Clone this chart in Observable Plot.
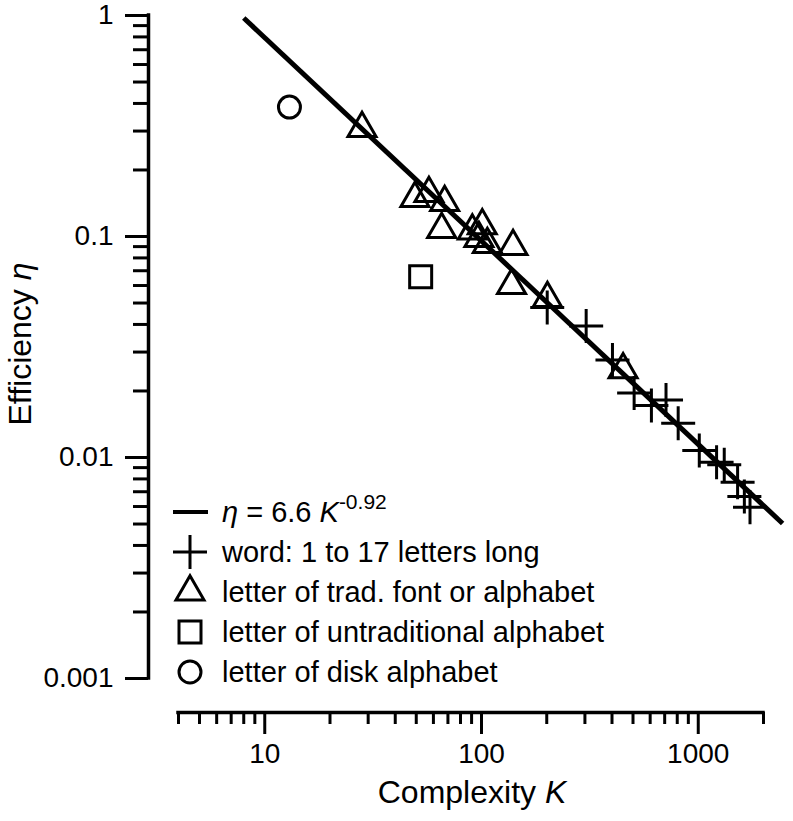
<!DOCTYPE html>
<html>
<head>
<meta charset="utf-8">
<script src="https://cdn.jsdelivr.net/npm/d3@7"></script>
<script src="https://cdn.jsdelivr.net/npm/@observablehq/plot@0.6"></script>
<style>
  html, body { margin: 0; padding: 0; background: #fff; }
  #chart { width: 793px; height: 821px; }
  svg { display: block; }
</style>
</head>
<body>
<div id="chart"></div>
<script>
// ---------- data ----------
// words (1 to 17 letters long) : plus markers
const wordK   = [201, 304, 402, 506, 608, 710, 808, 1011, 1215, 1318, 1519, 1632, 1733];
const wordEta = [0.0477, 0.0394, 0.0276, 0.0196, 0.0172, 0.0182, 0.0143, 0.01075, 0.00952, 0.00927, 0.00773, 0.00666, 0.00596];
// letters of traditional fonts / alphabets : triangles
const tradK   = [28.1, 49.3, 57.2, 67.6, 65.5, 100.8, 90.7, 97.3, 106.4, 139.8, 137.6, 201.4, 450];
const tradEta = [0.308, 0.1486, 0.1566, 0.1425, 0.1076, 0.112, 0.1059, 0.098, 0.092, 0.0901, 0.060, 0.0524, 0.025];
// letter of untraditional alphabet : square
const untradK   = [52.4];
const untradEta = [0.0657];
// letter of disk alphabet : circle
const diskK   = [13.0];
const diskEta = [0.385];
// fit  eta = 6.6 K^-0.92
const fitA = 6.6;
const fitB = -0.92;
const fitK = [8, 2450];

// axes
const xDomain = [4, 2000];
const yDomain = [0.001, 1];
const xMajorTicks = [10, 100, 1000];
const xMinorTicks = [4, 5, 6, 7, 8, 9, 20, 30, 40, 50, 60, 70, 80, 90, 200, 300, 400, 500, 600, 700, 800, 900, 2000];
const yMajorTicks = [0.001, 0.01, 0.1, 1];
const yMinorTicks = [0.002, 0.003, 0.004, 0.005, 0.006, 0.007, 0.008, 0.009,
                     0.02, 0.03, 0.04, 0.05, 0.06, 0.07, 0.08, 0.09,
                     0.2, 0.3, 0.4, 0.5, 0.6, 0.7, 0.8, 0.9];

const legendLabels = ["word: 1 to 17 letters long", "letter of trad. font or alphabet",
                      "letter of untraditional alphabet", "letter of disk alphabet"];

// ---------- build ----------
const toRows = (ks, es) => ks.map((k, i) => ({K: k, eta: es[i]}));
const words = toRows(wordK, wordEta);
const trad = toRows(tradK, tradEta);
const untrad = toRows(untradK, untradEta);
const disk = toRows(diskK, diskEta);
const fit = fitK.map(k => ({K: k, eta: fitA * Math.pow(k, fitB)}));

const rad = size => Math.sqrt(size / Math.PI);
const plusSym = {draw(ctx, size) { const r = rad(size); ctx.moveTo(-r, 0); ctx.lineTo(r, 0); ctx.moveTo(0, -r); ctx.lineTo(0, r); }};
const triSym = {draw(ctx, size) { const r = rad(size); const h = r * Math.sqrt(3);
  ctx.moveTo(0, -2 * h / 3); ctx.lineTo(r, h / 3); ctx.lineTo(-r, h / 3); ctx.closePath(); }};
const sqSym = {draw(ctx, size) { const r = rad(size); ctx.moveTo(-r, -r); ctx.lineTo(r, -r); ctx.lineTo(r, r); ctx.lineTo(-r, r); ctx.closePath(); }};

const FONT = "'Liberation Sans', Arial, Helvetica, sans-serif";
const mk = {stroke: "black", strokeWidth: 3, fill: "none", strokeLinejoin: "miter"};

const chart = Plot.plot({
  width: 793,
  height: 821,
  marginTop: 15,
  marginLeft: 148,
  marginRight: 31,
  marginBottom: 109,
  style: {fontFamily: FONT, fontSize: "28px", background: "white", color: "black", overflow: "visible"},
  x: {type: "log", domain: xDomain, range: [178, 763], label: null},
  y: {type: "log", domain: yDomain, range: [678, 15], label: null},
  marks: [
    // axis lines (offset Igor style)
    Plot.ruleX([xDomain[0]], {x: d => d, y1: yDomain[0], y2: yDomain[1], dx: -30, stroke: "black", strokeWidth: 3.5, strokeLinecap: "square"}),
    Plot.ruleY([yDomain[0]], {y: d => d, x1: xDomain[0], x2: xDomain[1], dy: 34, stroke: "black", strokeWidth: 3.5, strokeLinecap: "square"}),
    Plot.axisY({anchor: "left", ticks: yMinorTicks, tickSize: 15, tickFormat: () => "", strokeWidth: 3, label: null}),
    Plot.axisY({anchor: "left", ticks: yMajorTicks, tickSize: 23, tickPadding: 12, tickFormat: d => String(d), strokeWidth: 3, fontSize: 28, label: null}),
    Plot.axisX({anchor: "bottom", ticks: xMinorTicks, tickSize: 12, tickFormat: () => "", strokeWidth: 3, label: null}),
    Plot.axisX({anchor: "bottom", ticks: xMajorTicks, tickSize: 22, tickPadding: 9, tickFormat: d => String(d), strokeWidth: 3, fontSize: 28, label: null}),
    // fit line
    Plot.line(fit, {x: "K", y: "eta", stroke: "black", strokeWidth: 5, strokeLinecap: "butt"}),
    // data
    Plot.dot(trad, {x: "K", y: "eta", symbol: triSym, r: 14, ...mk}),
    Plot.dot(words, {x: "K", y: "eta", symbol: plusSym, r: 17, ...mk}),
    Plot.dot(untrad, {x: "K", y: "eta", symbol: sqSym, r: 11, ...mk}),
    Plot.dot(disk, {x: "K", y: "eta", symbol: "circle", r: 11, ...mk})
  ]
});

document.getElementById("chart").appendChild(chart);

// ---------- titles and legend (layout) ----------
const svg = d3.select(chart);
const g = svg.append("g").attr("font-family", FONT).attr("fill", "black");

// y title
const yt = g.append("text").attr("transform", "translate(31,344) rotate(-90)")
  .attr("text-anchor", "middle").attr("font-size", 32);
yt.append("tspan").text("Efficiency ");
yt.append("tspan").attr("font-style", "italic").text("η");

// x title
const xt = g.append("text").attr("x", 472).attr("y", 803)
  .attr("text-anchor", "middle").attr("font-size", 32);
xt.append("tspan").text("Complexity ");
xt.append("tspan").attr("font-style", "italic").text("K");

// legend
const lg = g.append("g").attr("text-anchor", "start");
const symX = 190, textX = 222, row0 = 512, step = 40, fs = 29;
const symStyle = sel => sel.attr("fill", "none").attr("stroke", "black").attr("stroke-width", 3);
// row 0: fit line
lg.append("line").attr("x1", 173).attr("x2", 208).attr("y1", row0).attr("y2", row0)
  .attr("stroke", "black").attr("stroke-width", 4);
const t0 = lg.append("text").attr("x", textX).attr("y", row0 + 10).attr("font-size", fs).attr("text-anchor", "start");
t0.append("tspan").attr("font-style", "italic").text("η");
t0.append("tspan").text(" = " + fitA + " ");
t0.append("tspan").attr("font-style", "italic").text("K");
t0.append("tspan").attr("font-size", 21).attr("dy", -13).text(String(fitB));
// symbol rows
const symbols = [plusSym, triSym, sqSym, d3.symbolCircle];
const symR = [17, 14, 11, 11];
legendLabels.forEach((lab, i) => {
  const y = row0 + step * (i + 1);
  symStyle(lg.append("path")
    .attr("d", d3.symbol(symbols[i], Math.PI * symR[i] * symR[i])())
    .attr("transform", `translate(${symX},${y})`)
    .attr("stroke-linejoin", "miter"));
  lg.append("text").attr("x", textX).attr("y", y + 10).attr("font-size", fs)
    .attr("text-anchor", "start").text(lab);
});
</script>
</body>
</html>
